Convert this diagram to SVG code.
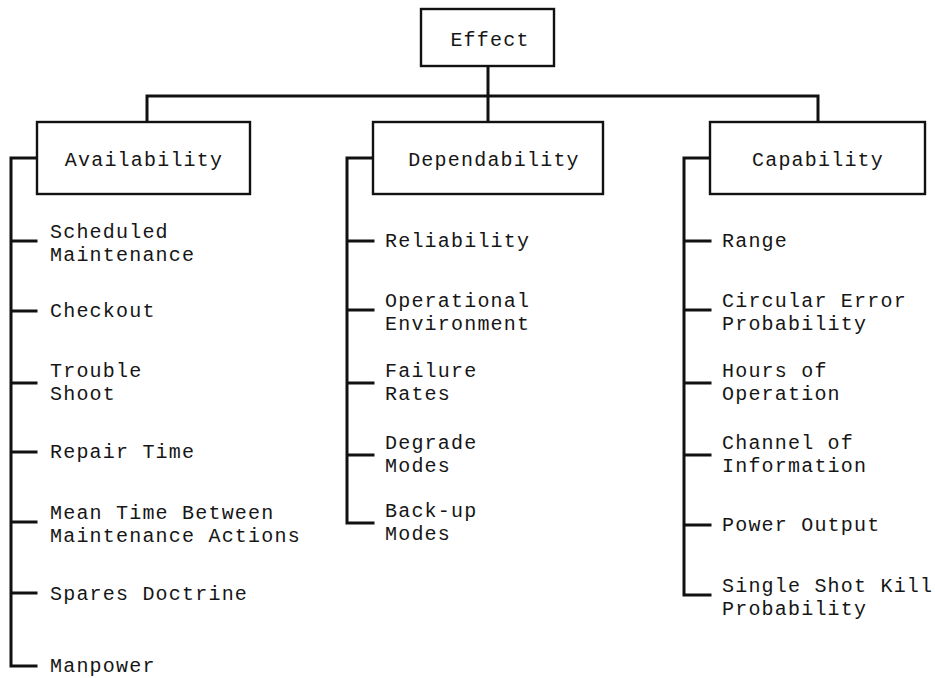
<svg xmlns="http://www.w3.org/2000/svg" width="935" height="678" viewBox="0 0 935 678">
  <style>
    .box { fill: #ffffff; stroke: #111; stroke-width: 2.4; }
    .wire { fill: none; stroke: #111; stroke-width: 3; stroke-linecap: square; stroke-linejoin: miter; }
    .lbl { font-family: "Liberation Mono", "DejaVu Sans Mono", monospace; font-size: 20px; letter-spacing: 1.2px; fill: #161616; }
    .mid { text-anchor: middle; }
  </style>
  <rect width="935" height="678" fill="#ffffff"/>

  <!-- tree connectors -->
  <g id="connectors">
    <path class="wire" d="M488 66 V96 M147 96 H818 M147 96 V122 M488 96 V122 M818 96 V122"/>
    <!-- Availability bracket -->
    <path class="wire" d="M37 158 H11 V666 H36 M11 241 H36 M11 311 H36 M11 383 H36 M11 452 H36 M11 522 H36 M11 593 H36"/>
    <!-- Dependability bracket -->
    <path class="wire" d="M373 158 H347 V523 H373 M347 241 H373 M347 310 H373 M347 383 H373 M347 455 H373"/>
    <!-- Capability bracket -->
    <path class="wire" d="M710 158 H684 V595 H710 M684 241 H710 M684 310 H710 M684 383 H710 M684 455 H710 M684 525 H710"/>
  </g>

  <!-- top node -->
  <g id="effect">
    <rect class="box" x="421" y="9" width="133" height="57"/>
    <text class="lbl mid" x="490" y="46">Effect</text>
  </g>

  <!-- second level -->
  <g id="availability">
    <rect class="box" x="37" y="122" width="213" height="72"/>
    <text class="lbl mid" x="144" y="166">Availability</text>
  </g>
  <g id="dependability">
    <rect class="box" x="373" y="122" width="230" height="72"/>
    <text class="lbl mid" x="494" y="166">Dependability</text>
  </g>
  <g id="capability">
    <rect class="box" x="710" y="122" width="215" height="72"/>
    <text class="lbl mid" x="818" y="166">Capability</text>
  </g>

  <!-- Availability factors -->
  <g id="scheduled-maintenance"><text class="lbl" x="50" y="238">Scheduled</text><text class="lbl" x="50" y="261">Maintenance</text></g>
  <g id="checkout"><text class="lbl" x="50" y="317">Checkout</text></g>
  <g id="trouble-shoot"><text class="lbl" x="50" y="377">Trouble</text><text class="lbl" x="50" y="400">Shoot</text></g>
  <g id="repair-time"><text class="lbl" x="50" y="458">Repair Time</text></g>
  <g id="mtbma"><text class="lbl" x="50" y="519">Mean Time Between</text><text class="lbl" x="50" y="542">Maintenance Actions</text></g>
  <g id="spares-doctrine"><text class="lbl" x="50" y="600">Spares Doctrine</text></g>
  <g id="manpower"><text class="lbl" x="50" y="672">Manpower</text></g>

  <!-- Dependability factors -->
  <g id="reliability"><text class="lbl" x="385" y="247">Reliability</text></g>
  <g id="operational-environment"><text class="lbl" x="385" y="307">Operational</text><text class="lbl" x="385" y="330">Environment</text></g>
  <g id="failure-rates"><text class="lbl" x="385" y="377">Failure</text><text class="lbl" x="385" y="400">Rates</text></g>
  <g id="degrade-modes"><text class="lbl" x="385" y="449">Degrade</text><text class="lbl" x="385" y="472">Modes</text></g>
  <g id="backup-modes"><text class="lbl" x="385" y="517">Back-up</text><text class="lbl" x="385" y="540">Modes</text></g>

  <!-- Capability factors -->
  <g id="range"><text class="lbl" x="722" y="247">Range</text></g>
  <g id="cep"><text class="lbl" x="722" y="307">Circular Error</text><text class="lbl" x="722" y="330">Probability</text></g>
  <g id="hours-of-operation"><text class="lbl" x="722" y="377">Hours of</text><text class="lbl" x="722" y="400">Operation</text></g>
  <g id="channel-of-information"><text class="lbl" x="722" y="449">Channel of</text><text class="lbl" x="722" y="472">Information</text></g>
  <g id="power-output"><text class="lbl" x="722" y="531">Power Output</text></g>
  <g id="sskp"><text class="lbl" x="722" y="592">Single Shot Kill</text><text class="lbl" x="722" y="615">Probability</text></g>
</svg>
